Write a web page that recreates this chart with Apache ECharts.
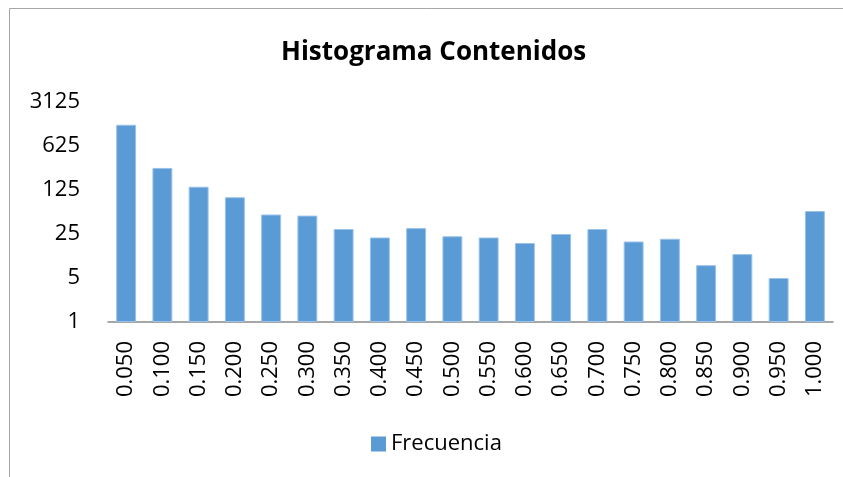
<!DOCTYPE html>
<html lang="es">
<head>
	<meta charset="UTF-8">
	<title>Histograma Contenidos</title>
	<script type="text/javascript" src="https://cdn.jsdelivr.net/npm/echarts@6/dist/echarts.min.js"></script>
	<style>
		html, body, #content {
			width: 100%;
			height: 100%;
			margin: 0;
			background: #fff;
		}
	</style>
</head>
<body>
	<div id="content"></div>
	<script>
		// clases del histograma (limite superior)
		var clases = ['0.050', '0.100', '0.150', '0.200', '0.250', '0.300', '0.350', '0.400', '0.450', '0.500',
			'0.550', '0.600', '0.650', '0.700', '0.750', '0.800', '0.850', '0.900', '0.950', '1.000'];
		// frecuencia (escala log base 5)
		var frecuencia = [1360, 280, 141, 96, 51, 49, 30, 22, 31, 23,
			22, 18, 25, 30, 19, 21, 8, 12, 5, 58];
		var ticksY = [1, 5, 25, 125, 625, 3125];

		var fuente = '"Open Sans", sans-serif';
		var chart = echarts.init(document.getElementById('content'));

		chart.setOption({
			animation: false,
			title: {
				text: 'Histograma Contenidos',
				left: 276,
				top: 35,
				textStyle: { fontFamily: fuente, fontSize: 26, fontWeight: 'bold', color: '#000' }
			},
			graphic: [{
				type: 'rect',
				shape: { x: 9.5, y: 8.5, width: 900, height: 500 },
				style: { fill: 'none', stroke: '#a6a6a6', lineWidth: 1 },
				silent: true
			}],
			legend: {
				data: ['Frecuencia'],
				left: 366,
				top: 428,
				itemWidth: 15,
				itemHeight: 15,
				itemGap: 8,
				icon: 'rect',
				itemStyle: { borderWidth: 0 },
				textStyle: { fontFamily: fuente, fontSize: 22, color: '#000' }
			},
			grid: { left: 108, right: 10, top: 102, bottom: 155 },
			xAxis: {
				type: 'category',
				data: clases,
				axisLine: { lineStyle: { color: '#898989', width: 1.5 } },
				axisTick: { show: false },
				axisLabel: {
					rotate: 90,
					margin: 19,
					interval: 0,
					fontFamily: fuente,
					fontSize: 22,
					color: '#000'
				}
			},
			yAxis: {
				type: 'log',
				logBase: 5,
				min: ticksY[0],
				max: ticksY[ticksY.length - 1],
				splitNumber: 5,
				axisLine: { show: false },
				axisTick: { show: false },
				splitLine: { show: false },
				axisLabel: {
					margin: 28,
					fontFamily: fuente,
					fontSize: 22,
					color: '#000',
					formatter: function (v) { return String(Math.round(v)); }
				}
			},
			series: [{
				name: 'Frecuencia',
				type: 'bar',
				barWidth: '55%',
				data: frecuencia,
				itemStyle: { color: '#5b9bd5', borderColor: '#9cc2e8', borderWidth: 1 }
			}]
		});
		window.onresize = chart.resize;
	</script>
</body>
</html>
